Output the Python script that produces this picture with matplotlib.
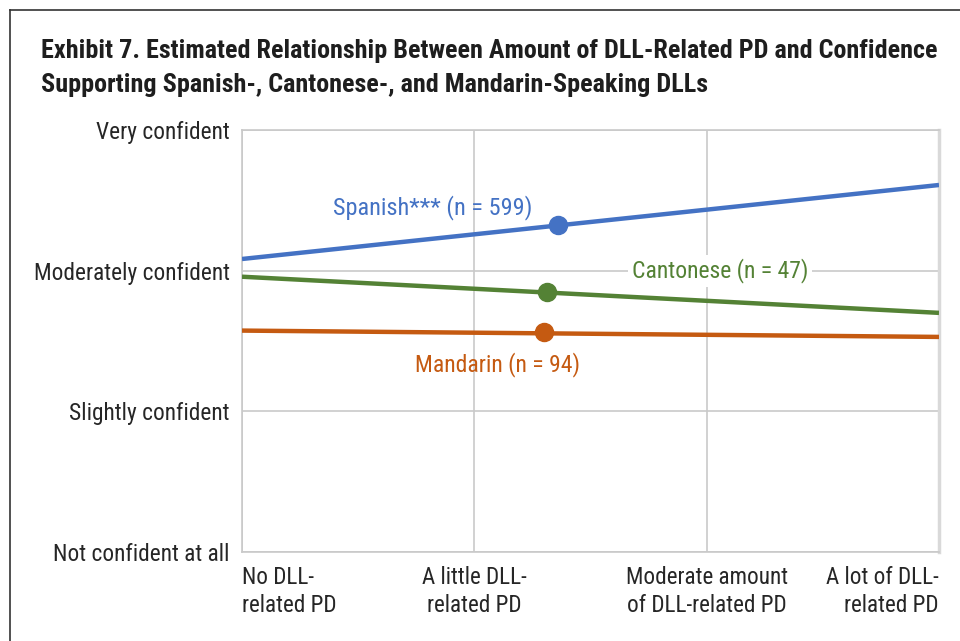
import matplotlib
matplotlib.use("Agg")
import matplotlib.pyplot as plt
from matplotlib.lines import Line2D

plt.rcParams['font.family'] = ['Roboto Condensed', 'Archivo Narrow', 'Asap Condensed', 'DejaVu Sans']

# ---------------- DATA ---------------- #
x_labels = ["No DLL-\nrelated PD", "A little DLL-\nrelated PD",
            "Moderate amount\nof DLL-related PD", "A lot of DLL-\nrelated PD"]
y_labels = ["Not confident at all", "Slightly confident",
            "Moderately confident", "Very confident"]

x_ends = [0, 3]
spanish_line = [3.083, 3.609]
cantonese_line = [2.957, 2.700]
mandarin_line = [2.574, 2.529]

# mean PD point for each group
spanish_pt = (1.36, 3.325)
cantonese_pt = (1.313, 2.845)
mandarin_pt = (1.30, 2.563)

BLUE = "#4472C4"
GREEN = "#548235"
ORANGE = "#C55A11"
GRID = "#C9C9C9"
TXT = "#262626"

# ---------------- PLOT ---------------- #
fig = plt.figure(figsize=(9.6, 6.41), dpi=100)
ax = fig.add_axes([242 / 960, 1 - 552 / 641, 697 / 960, 422 / 641])

# outer frame (runs off right and bottom edge)
fig.add_artist(Line2D([10 / 960, 10 / 960], [1 - 10 / 641, -0.1],
                      transform=fig.transFigure, color="#333333", lw=1.2))
fig.add_artist(Line2D([10 / 960, 1.1], [1 - 10 / 641, 1 - 10 / 641],
                      transform=fig.transFigure, color="#333333", lw=1.2))

fig.text(41 / 960, 1 - 51 / 641,
         "Exhibit 7. Estimated Relationship Between Amount of DLL-Related PD and Confidence",
         fontsize=18.8, fontweight="bold", color="#1E1E1E", va="center", ha="left")
fig.text(41 / 960, 1 - 85 / 641,
         "Supporting Spanish-, Cantonese-, and Mandarin-Speaking DLLs",
         fontsize=18.8, fontweight="bold", color="#1E1E1E", va="center", ha="left")

ax.plot(x_ends, spanish_line, color=BLUE, lw=3.2, solid_capstyle="butt", zorder=3)
ax.plot(x_ends, cantonese_line, color=GREEN, lw=3.2, solid_capstyle="butt", zorder=3)
ax.plot(x_ends, mandarin_line, color=ORANGE, lw=3.2, solid_capstyle="butt", zorder=3)

ax.plot(*spanish_pt, "o", color=BLUE, ms=13, zorder=4)
ax.plot(*cantonese_pt, "o", color=GREEN, ms=13, zorder=4)
ax.plot(*mandarin_pt, "o", color=ORANGE, ms=13, zorder=4)

ax.text(0.82, 3.45, "Spanish*** (n = 599)", color=BLUE, fontsize=17.5,
        ha="center", va="center", zorder=5)
ax.text(2.058, 3.0, "Cantonese (n = 47)", color=GREEN, fontsize=17,
        ha="center", va="center", zorder=5,
        bbox=dict(boxstyle="square,pad=0.15", fc="white", ec="none"))
ax.text(1.10, 2.33, "Mandarin (n = 94)", color=ORANGE, fontsize=17,
        ha="center", va="center", zorder=5)

ax.set_xlim(0, 3)
ax.set_ylim(1, 4)
ax.set_xticks(range(4))
ax.set_yticks(range(1, 5))
ax.set_xticklabels(x_labels, fontsize=16.7, color=TXT, linespacing=1.3)
ax.set_yticklabels(y_labels, fontsize=16.8, color=TXT)
aligns = ["left", "center", "center", "right"]
for lbl, ha in zip(ax.get_xticklabels(), aligns):
    lbl.set_ha(ha)
    lbl.set_multialignment(ha)
ax.tick_params(axis="x", length=0, pad=10)
ax.tick_params(axis="y", length=0, pad=9)

ax.grid(True, color=GRID, lw=1.2)
ax.set_axisbelow(True)
for side in ["left", "bottom", "top"]:
    ax.spines[side].set_color(GRID)
    ax.spines[side].set_linewidth(1.2)
ax.spines["right"].set_color("#D9D9D9")
ax.spines["right"].set_linewidth(2.5)

fig.savefig("out.png", dpi=100)
